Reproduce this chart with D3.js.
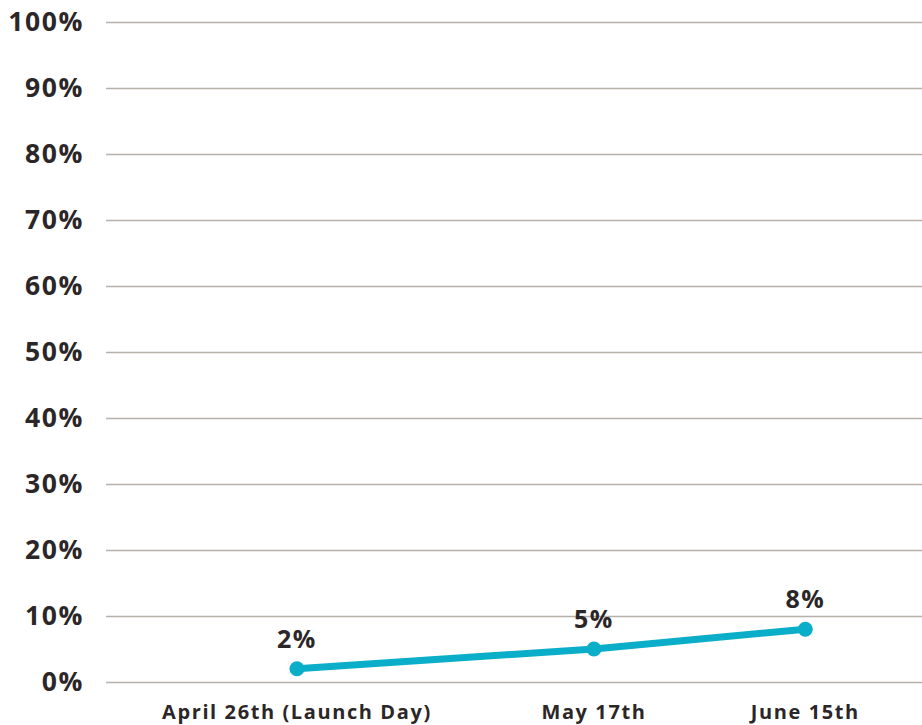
<!DOCTYPE html>
<html>
<head>
<meta charset="utf-8">
<script src="https://cdn.jsdelivr.net/npm/d3@7"></script>
<style>
  html, body { margin: 0; padding: 0; background: #ffffff; }
  svg { display: block; }
  text { font-family: "Open Sans", "Noto Sans", sans-serif; font-weight: 700; fill: #2b2627; }
</style>
</head>
<body>
<svg id="chart" width="922" height="725"></svg>
<script>
// Adoption share at each checkpoint
const categories = ["April 26th (Launch Day)", "May 17th", "June 15th"];
const values = [2, 5, 8];
const yTicks = [0, 10, 20, 30, 40, 50, 60, 70, 80, 90, 100];

const W = 922, H = 725;
const margin = { left: 106, right: 0, top: 22, bottom: 43 };
const svg = d3.select("#chart");

const y = d3.scaleLinear().domain([0, 100]).range([H - margin.bottom, margin.top]);

// Checkpoints sit at uneven spots across the plot width
const xFrac = d3.scaleOrdinal().domain(categories).range([0.234, 0.598, 0.857]);
const xLin = d3.scaleLinear().domain([0, 1]).range([margin.left, W - margin.right]);
const x = c => xLin(xFrac(c));

// Gridlines and y labels
const yAxis = d3.axisLeft(y)
  .tickValues(yTicks)
  .tickFormat(d => d + "%")
  .tickSize(-(W - margin.left - margin.right))
  .tickPadding(22);

const gy = svg.append("g")
  .attr("transform", `translate(${margin.left},0)`)
  .call(yAxis);
gy.select(".domain").remove();
gy.selectAll(".tick line").attr("stroke", "#b6b0aa").attr("stroke-width", 1.4);
gy.selectAll(".tick text")
  .attr("font-size", 26.5)
  .attr("letter-spacing", 1.6)
  .attr("fill", "#2b2627")
  .attr("font-family", "'Open Sans', sans-serif")
  .attr("font-weight", 700);

// Category labels under the plot
svg.append("g").selectAll("text")
  .data(categories)
  .join("text")
  .attr("x", d => x(d))
  .attr("y", 719)
  .attr("text-anchor", "middle")
  .attr("font-size", 20)
  .attr("letter-spacing", 1.6)
  .text(d => d);

// Series line
const pts = categories.map((c, i) => ({ c, v: values[i] }));
svg.append("path")
  .datum(pts)
  .attr("fill", "none")
  .attr("stroke", "#0aaec8")
  .attr("stroke-width", 7)
  .attr("stroke-linecap", "round")
  .attr("d", d3.line().x(d => x(d.c)).y(d => y(d.v)));

svg.append("g").selectAll("circle")
  .data(pts)
  .join("circle")
  .attr("cx", d => x(d.c))
  .attr("cy", d => y(d.v))
  .attr("r", 7.5)
  .attr("fill", "#0aaec8");

// Value labels above each point
svg.append("g").selectAll("text")
  .data(pts)
  .join("text")
  .attr("x", d => x(d.c))
  .attr("y", d => y(d.v) - 21)
  .attr("text-anchor", "middle")
  .attr("font-size", 25)
  .attr("letter-spacing", 1.5)
  .text(d => d.v + "%");
</script>
</body>
</html>
